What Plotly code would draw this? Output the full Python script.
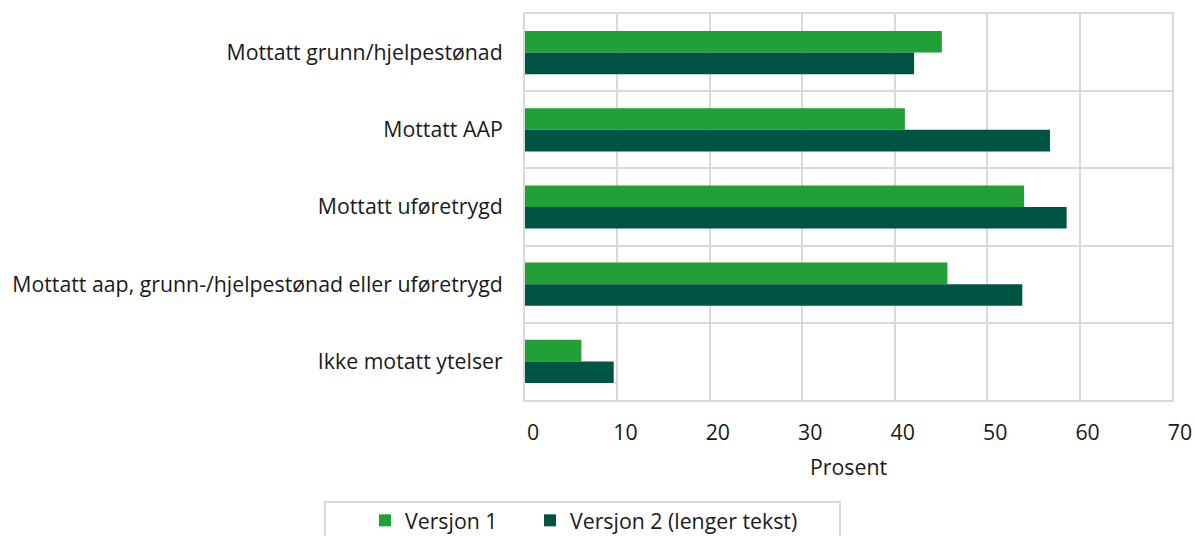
import plotly.graph_objects as go

categories = [
    "Mottatt grunn/hjelpestønad",
    "Mottatt AAP",
    "Mottatt uføretrygd",
    "Mottatt aap, grunn-/hjelpestønad eller uføretrygd",
    "Ikke motatt ytelser",
]
versjon1 = [45.1, 41.1, 54.0, 45.7, 6.1]
versjon2 = [42.1, 56.8, 58.6, 53.8, 9.6]
series_names = ["Versjon 1", "Versjon 2 (lenger tekst)"]
x_ticks = [0, 10, 20, 30, 40, 50, 60, 70]

C1 = "#21A038"
C2 = "#005444"
GRID = "#D9D9D9"
FONT = "Open Sans"
FS = 21.3

fig = go.Figure()
fig.add_trace(go.Bar(y=categories, x=versjon1, name=series_names[0], orientation="h",
                     marker=dict(color=C1, line=dict(width=0)), legend="legend"))
fig.add_trace(go.Bar(y=categories, x=versjon2, name=series_names[1], orientation="h",
                     marker=dict(color=C2, line=dict(width=0)), legend="legend2"))

W, H = 1195, 536
L, R, T, B = 525, 23, 14, 136
pw, ph = W - L - R, H - T - B

def px_x(p):
    return (p - L) / pw

def px_y(p):
    return (H - B - p) / ph

leg_common = dict(orientation="h", yanchor="top", xanchor="left",
                  font=dict(family=FONT, size=FS, color="#1a1a1a"),
                  itemwidth=30, bgcolor="rgba(0,0,0,0)", borderwidth=0)

fig.update_layout(
    width=W, height=H,
    margin=dict(l=L, r=R, t=T, b=B, autoexpand=False),
    paper_bgcolor="white", plot_bgcolor="white",
    font=dict(family=FONT, size=FS, color="#1a1a1a"),
    barmode="group", bargap=0.44, bargroupgap=0,
    showlegend=True,
    legend=dict(x=px_x(365), y=px_y(500), **leg_common),
    legend2=dict(x=px_x(530), y=px_y(500), **leg_common),
    shapes=[dict(type="rect", xref="paper", yref="paper",
                 x0=px_x(325), x1=px_x(840), y0=px_y(502), y1=px_y(560),
                 line=dict(color=GRID, width=2), fillcolor="rgba(0,0,0,0)", layer="below")],
)
fig.update_xaxes(range=[0, 70], tickvals=x_ticks, showgrid=True, gridcolor=GRID, gridwidth=2,
                 zeroline=False, showline=True, linecolor=GRID, linewidth=2, mirror=True,
                 ticks="", ticklabelstandoff=12, ticklabelshift=8, automargin=False,
                 title=dict(text="Prosent", standoff=16, font=dict(size=FS)))
fig.update_yaxes(autorange="reversed", tickson="boundaries", showgrid=True, gridcolor=GRID,
                 gridwidth=2, showline=True, linecolor=GRID, linewidth=2, mirror=True,
                 ticks="", ticklabelstandoff=16, automargin=False)

fig.write_html("out.html", config={"displayModeBar": False},
               post_script="document.body.style.margin='0';document.body.style.overflow='hidden';")
